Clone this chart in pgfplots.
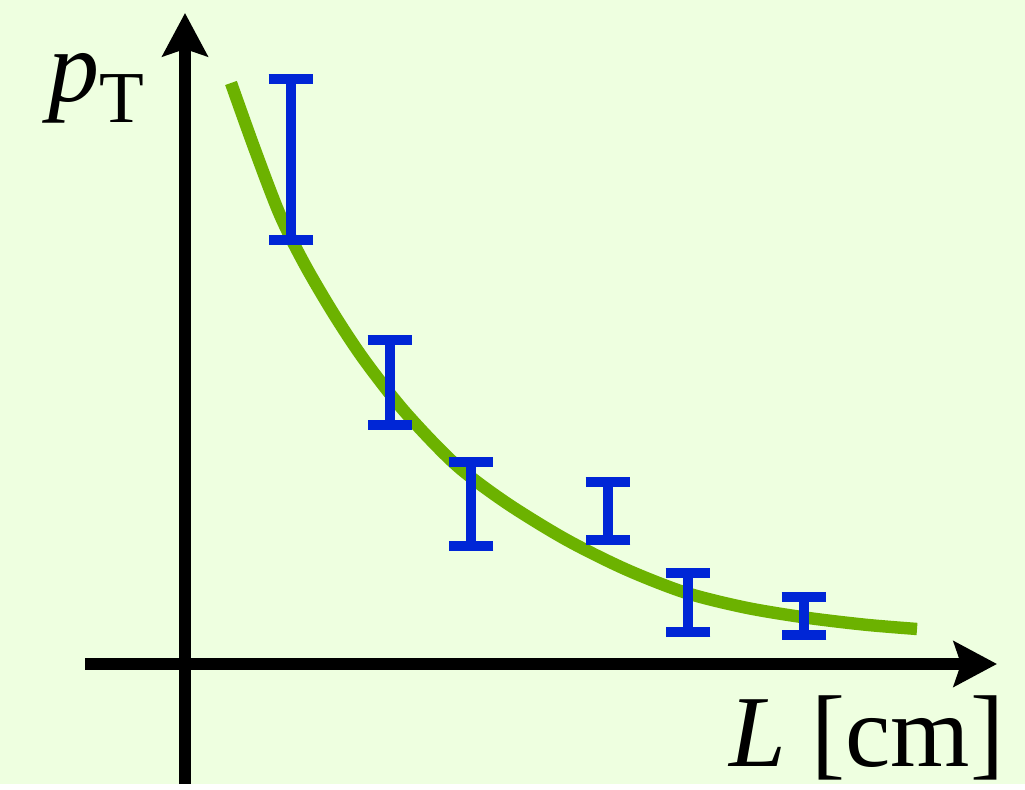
\documentclass[border=0pt]{standalone}
\usepackage{pgfplots}
\pgfplotsset{compat=1.18}
\usepackage{fontspec}
\setmainfont{Liberation Serif}
\usetikzlibrary{arrows.meta}

\definecolor{bgcol}{RGB}{238,255,224}
\definecolor{fitgreen}{RGB}{108,178,0}
\definecolor{barblue}{RGB}{0,38,214}

\begin{document}
\begin{tikzpicture}
\begin{axis}[
  scale only axis,
  width=256.25pt, height=196pt,
  xmin=-185, xmax=840,
  ymin=-120, ymax=664,
  hide axis,
  clip=false,
]
% background
\fill[bgcol] (axis cs:-185,-120) rectangle (axis cs:840,664);

% coordinate axes
\draw[line width=2.8pt, -{Stealth[length=10.8pt, width=11.25pt, inset=1.8pt]}]
  (axis cs:-100,0) -- (axis cs:812,0);
\draw[line width=2.8pt, -{Stealth[length=10.8pt, width=11.25pt, inset=1.8pt]}]
  (axis cs:0,-120) -- (axis cs:0,651);

% fitted curve
\addplot[smooth, line width=3.1pt, color=fitgreen] coordinates {
  (46,581) (70,514) (95,449) (120,399) (150,348) (180,303) (220,252)
  (270,200) (320,162) (380,125) (440,95) (500,71.5) (560,56.5)
  (620,46.5) (680,39.3) (732,35)
};

% measurements with uncertainties
\addplot[draw=none, mark=none,
  error bars/.cd, y dir=both, y explicit,
  error bar style={line width=2.5pt, color=barblue},
  error mark options={line width=2.5pt, mark size=5.6pt, color=barblue, rotate=90},
] coordinates {
  (106,504.5) +- (0,80.5)
  (205,281.5) +- (0,42.5)
  (286,160)   +- (0,42)
  (423,153)   +- (0,29)
  (503,61.5)  +- (0,29.5)
  (619,48)    +- (0,19)
};

% axis labels
\node[anchor=base west, inner sep=0pt] at (axis cs:-137,562)
  {\fontsize{25.5}{30}\selectfont\textit{p}\raisebox{-5.25pt}{\fontsize{18.3}{20}\selectfont T}};
\node[anchor=base west, inner sep=0pt] at (axis cs:544,-103)
  {\fontsize{25.5}{30}\selectfont\textit{L}};
\node[anchor=base east, inner sep=0pt] at (axis cs:820,-103)
  {\fontsize{25.5}{30}\selectfont [cm]};
\end{axis}
\end{tikzpicture}
\end{document}
